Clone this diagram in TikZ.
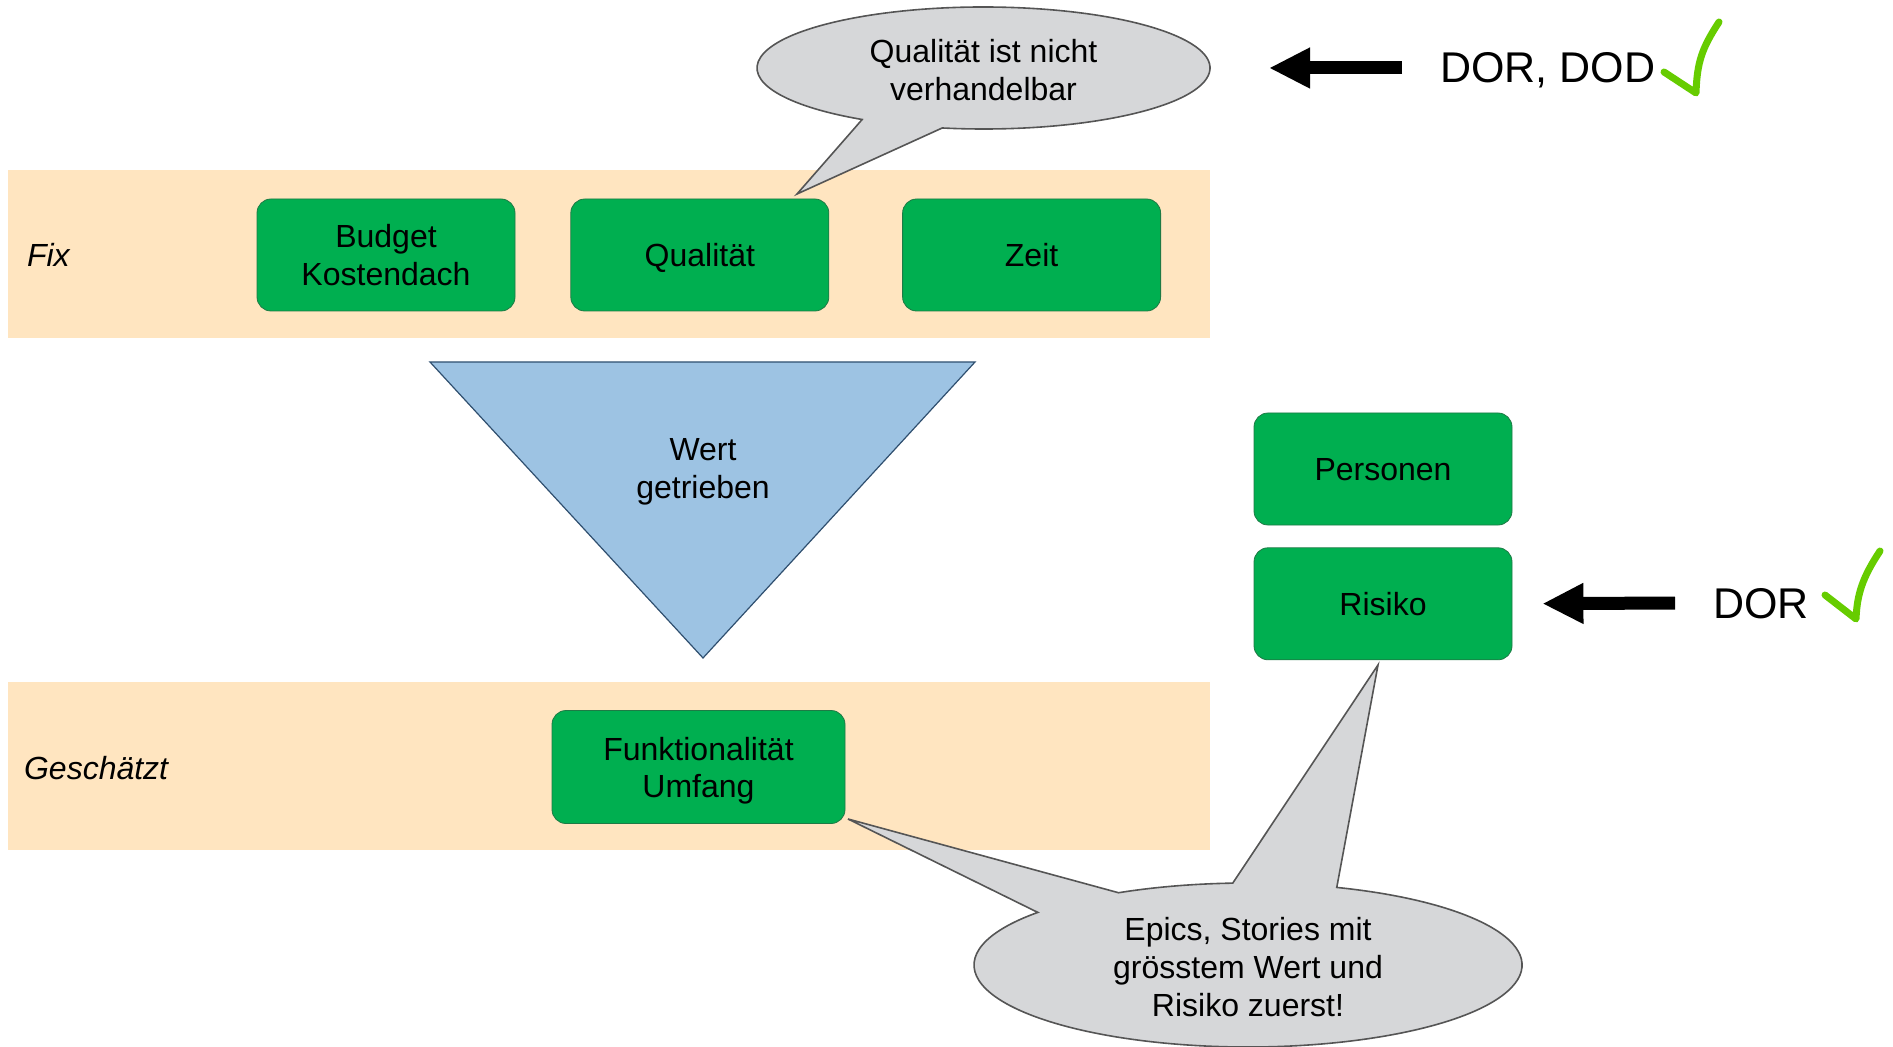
\documentclass[tikz,border=0pt]{standalone}
\usepackage{fontspec}
\setmainfont{Liberation Sans}
\usetikzlibrary{arrows.meta,positioning,calc}

\definecolor{bandorange}{HTML}{FFE5C0}
\definecolor{boxgreen}{HTML}{00AF50}
\definecolor{boxedge}{HTML}{1E7A45}
\definecolor{triblue}{HTML}{9DC3E3}
\definecolor{triedge}{HTML}{2F4F6F}
\definecolor{calloutgray}{HTML}{D6D7D9}
\definecolor{calloutedge}{HTML}{555555}
\definecolor{tickgreen}{HTML}{66CC00}

\begin{document}
\begin{tikzpicture}[x=0.5pt,y=-0.5pt,
    txt/.style={font=\fontsize{16}{18.7}\selectfont,align=center},
    box/.style={txt,draw=boxedge,fill=boxgreen,rounded corners=7pt,
      minimum width=129pt,minimum height=56pt,inner sep=0pt},
    oneline/.style={text height=11.7pt,text depth=0pt},
    band/.style={fill=bandorange},
    callout/.style={draw=calloutedge,fill=calloutgray,line width=0.8pt},
    blockarrow/.style={-{Triangle[length=20.5pt,width=19pt]},line width=6.5pt},
    tick/.style={draw=tickgreen,line width=3.5pt,line cap=round,line join=round},
    big/.style={font=\fontsize{21.5}{25}\selectfont,anchor=base west,inner sep=0pt}]

    \useasboundingbox (0,0) rectangle (1893,1047);

    % bands
    \fill[band] (8,170) rectangle (1210,338);
    \fill[band] (8,682) rectangle (1210,850);
    \node[txt,font=\fontsize{16}{18.7}\selectfont\itshape,anchor=west] (fix) at (20,255) {Fix};
    \node[txt,font=\fontsize{16}{18.7}\selectfont\itshape,anchor=west] (geschaetzt) at (17,768) {Geschätzt};

    % boxes
    \node[box] (budget) at (386,255) {Budget\\Kostendach};
    \node[box,oneline,right=27.5pt of budget] (quali) {Qualität};
    \node[box,oneline,right=36.5pt of quali] (zeit) {Zeit};
    \node[box,oneline] (personen) at (1383,469) {Personen};
    \node[box,oneline,below=11pt of personen] (risiko) {Risiko};
    \node[box,minimum width=146.5pt,minimum height=56.5pt] (funkt) at (698.5,767) {\rule{0pt}{15.5pt}Funktionalität\\Umfang};

    % triangle
    \filldraw[draw=triedge,fill=triblue,line width=0.6pt] (430,362) -- (975,362) -- (703,658) -- cycle;
    \node[txt] (wert) at (703,472) {Wert\\getrieben};

    % callouts
    \coordinate (q) at (983.5,68);
    \coordinate (tipq) at (797,194);
    \draw[callout] ($(q)+(122.4:226.5 and 61)$) -- (tipq) -- ($(q)+(100.5:226.5 and 61)$)
      arc[start angle=100.5,end angle=-237.6,x radius=226.5,y radius=61] -- cycle;
    \node[txt] (qtext) at (983.5,70) {Qualität ist nicht\\verhandelbar};

    \coordinate (e) at (1248,965);
    \coordinate (tipf) at (848,819);
    \coordinate (tipr) at (1378,665);
    \draw[callout] ($(e)+(-140.1:274 and 82)$) -- (tipf) -- ($(e)+(-118.2:274 and 82)$)
      arc[start angle=-118.2,end angle=-93.2,x radius=274,y radius=82] -- (tipr)
      -- ($(e)+(-71.1:274 and 82)$)
      arc[start angle=-71.1,end angle=219.9,x radius=274,y radius=82] -- cycle;
    \node[txt,font=\fontsize{16}{19}\selectfont] (epics) at (1248,967) {Epics, Stories mit\\grösstem Wert und\\Risiko zuerst!};

    % arrows and ticks
    \coordinate (a1s) at (1402,68);
    \coordinate (a1e) at (1269,68);
    \draw[blockarrow] (a1s) -- (a1e);
    \node[big] (dordod) at (1440,83) {DOR, DOD};
    \draw[tick] (1664,72) -- (1696,93) .. controls (1697,62) and (1702,48) .. (1719,22);

    \coordinate (a2s) at (1675,603);
    \draw[blockarrow,shorten >=15pt] (a2s) -- (risiko.east);
    \node[big] (dor) at (1713,618) {DOR};
    \draw[tick] (1825,595) -- (1856,619) .. controls (1857,595) and (1862,578) .. (1880,551);
\end{tikzpicture}
\end{document}
